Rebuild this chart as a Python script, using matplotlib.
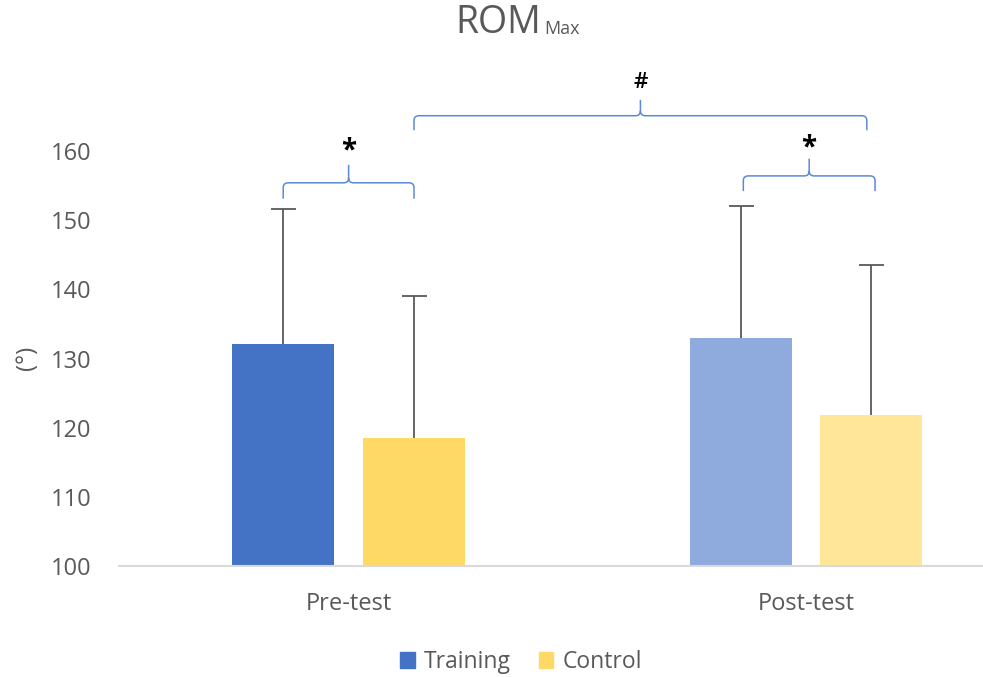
import matplotlib
matplotlib.use("Agg")
from matplotlib import pyplot as plt
from matplotlib.path import Path
from matplotlib.patches import PathPatch, Patch
import numpy as np

plt.rcParams['font.family'] = ['Open Sans', 'DejaVu Sans']

groups = ['Pre-test', 'Post-test']
series = ['Training', 'Control']
means = {'Training': [132.1, 132.9], 'Control': [118.5, 121.8]}
sds = {'Training': [19.5, 19.1], 'Control': [20.5, 21.7]}
colors = {'Training': ['#4472C4', '#8FAADC'], 'Control': ['#FFD966', '#FFE699']}

x = np.arange(len(groups))
w = 0.223
off = {'Training': -0.143, 'Control': 0.143}

fig = plt.figure(figsize=(9.83, 6.77), dpi=100)
ax = fig.add_axes([119/983, 111/677, 864/983, 415/677])

for s in series:
    ax.bar(x + off[s], means[s], w, color=colors[s], zorder=2)
    eb = ax.errorbar(x + off[s], means[s], yerr=[np.zeros(2), sds[s]], fmt='none',
                     ecolor='#595959', elinewidth=1.3, capsize=9, capthick=1.3, zorder=3)
    # hide the cap sitting on the bar top (lower error is zero)
    for c in eb[1]:
        if np.allclose(c.get_ydata(), means[s]):
            c.set_visible(False)

ax.set_xlim(-0.502, 1.387)
ax.set_ylim(100, 160)
ax.set_yticks(np.arange(100, 161, 10))
ax.set_xticks(x)
ax.set_xticklabels(groups)
ax.tick_params(axis='both', length=0, labelsize=17, colors='#595959')
ax.tick_params(axis='y', pad=20)
ax.tick_params(axis='x', pad=19)
for sp in ['top', 'right', 'left']:
    ax.spines[sp].set_visible(False)
ax.spines['bottom'].set_color('#D9D9D9')
ax.spines['bottom'].set_linewidth(1.5)
fig.text(27/983, 1 - 358/677, '(°)', rotation=90, ha='center', va='center',
         fontsize=17, color='#595959')


def brace(x0, x1, yb, yh, yt, label, ty, size, weight):
    rx, ry = 0.011, 0.7
    xm = (x0 + x1) / 2
    verts = [(x0, yb), (x0, yh - ry), (x0, yh), (x0 + rx, yh), (xm - rx, yh),
             (xm, yh), (xm, yh + ry), (xm, yt),
             (xm, yh + ry), (xm, yh), (xm + rx, yh), (x1 - rx, yh),
             (x1, yh), (x1, yh - ry), (x1, yb)]
    codes = [Path.MOVETO, Path.LINETO, Path.CURVE3, Path.CURVE3, Path.LINETO,
             Path.CURVE3, Path.CURVE3, Path.LINETO,
             Path.MOVETO, Path.CURVE3, Path.CURVE3, Path.LINETO,
             Path.CURVE3, Path.CURVE3, Path.LINETO]
    ax.add_patch(PathPatch(Path(verts, codes), fill=False, edgecolor='#5B8BD6',
                           lw=1.1, clip_on=False, zorder=4))
    ax.text(xm, ty, label, ha='center', va='center', fontsize=size,
            fontweight=weight, color='black', clip_on=False)


brace(x[0] + off['Training'], x[0] + off['Control'], 153.1, 155.4, 158.0, '*', 160.0, 20, 'bold')
brace(x[1] + off['Training'] + 0.006, x[1] + off['Control'] + 0.008, 154.2, 156.4, 158.9, '*', 160.4, 20, 'bold')
brace(x[0] + off['Control'], x[1] + off['Control'] - 0.01, 163.0, 165.1, 167.4, '#', 169.9, 16, 'semibold')

fig.text(541/983, 1 - 33/677, 'ROM', ha='right', va='baseline', fontsize=27, color='#595959')
fig.text(544/983, 1 - 34/677, 'Max', ha='left', va='baseline', fontsize=13, color='#595959')

handles = [Patch(color=colors[s][0]) for s in series]
fig.legend(handles, series, loc='center', bbox_to_anchor=(521/983, 1 - 662/677), ncol=2,
           frameon=False, fontsize=16.5, handlelength=0.65, handleheight=0.65,
           handletextpad=0.4, columnspacing=1.2, labelcolor='#595959')

fig.savefig('out.png', dpi=100)
